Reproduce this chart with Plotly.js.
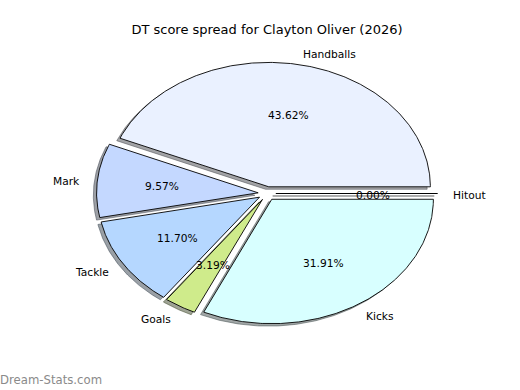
<!DOCTYPE html>
<html>
<head>
<meta charset="utf-8">
<script src="https://cdn.plot.ly/plotly-3.0.1.min.js"></script>
<style>html,body{margin:0;padding:0;background:#fff;}#chart{width:520px;height:390px;}</style>
</head>
<body>
<div id="chart"></div>
<script>
// ---- data ----
const categories = ["Handballs", "Mark", "Tackle", "Goals", "Kicks", "Hitout"];
const points = [82, 18, 22, 6, 60, 0];   // DT points per stat
const colours = ["#EAF1FF", "#C4D8FF", "#B5D7FF", "#CFEB8B", "#D8FFFF", "#EEEEEE"];
const chartTitle = "DT score spread for Clayton Oliver (2026)";
const watermark = "Dream-Stats.com";

// ---- styling ----
const explode = 0.055;
const labelDist = 1.1;
const pctDist = 0.6;
const shadowOff = 0.02;
const FONT = "DejaVu Sans, sans-serif";

const total = points.reduce((a, b) => a + b, 0);

function hexToRgb(h) {
  const n = parseInt(h.slice(1), 16);
  return [(n >> 16) & 255, (n >> 8) & 255, n & 255];
}

const shadowTraces = [];
const wedgeTraces = [];
const annotations = [];
let cum = 0;
categories.forEach((cat, i) => {
  const frac = points[i] / total;
  const t1 = 2 * Math.PI * cum;
  const t2 = 2 * Math.PI * (cum + frac);
  cum += frac;
  const tm = (t1 + t2) / 2;
  const ax = explode * Math.cos(tm);
  const ay = explode * Math.sin(tm);
  const xs = [ax], ys = [ay];
  const n = Math.max(2, Math.ceil((t2 - t1) / (Math.PI / 360)));
  for (let k = 0; k <= n; k++) {
    const t = t1 + (t2 - t1) * k / n;
    xs.push(ax + Math.cos(t));
    ys.push(ay + Math.sin(t));
  }
  xs.push(ax); ys.push(ay);

  const rgb = hexToRgb(colours[i]).map(v => Math.round(v * 0.3));
  const sc = `rgba(${rgb[0]},${rgb[1]},${rgb[2]},0.5)`;
  shadowTraces.push({
    type: "scatter", mode: "lines", fill: "toself",
    x: xs.map(v => v - shadowOff), y: ys.map(v => v - shadowOff),
    fillcolor: sc, line: {color: sc, width: 1},
    hoverinfo: "skip", showlegend: false
  });
  wedgeTraces.push({
    type: "scatter", mode: "lines", fill: "toself",
    x: xs, y: ys, name: cat,
    fillcolor: colours[i], line: {color: "#000000", width: 0.9},
    hoverinfo: "name", showlegend: false
  });

  const lx = ax + labelDist * Math.cos(tm);
  const ly = ay + labelDist * Math.sin(tm);
  annotations.push({
    x: lx, y: ly, xref: "x", yref: "y", text: cat, showarrow: false,
    xanchor: lx > 0 ? "left" : "right", yanchor: "middle", borderpad: 0,
    xshift: lx > 0 ? -2 : 0, yshift: -2,
    font: {family: FONT, size: 10.67, color: "#000"}
  });
  annotations.push({
    x: ax + pctDist * Math.cos(tm), y: ay + pctDist * Math.sin(tm),
    xref: "x", yref: "y", text: (frac * 100).toFixed(2) + "%", showarrow: false,
    xanchor: "center", yanchor: "middle", borderpad: 0, yshift: -1.5,
    font: {family: FONT, size: 10.67, color: "#000"}
  });
});

annotations.push({
  x: -65 / 404, y: -31 / 311, xref: "paper", yref: "paper",
  text: watermark, showarrow: false, xanchor: "left", yanchor: "middle", borderpad: 0,
  xshift: -1,
  font: {family: FONT, size: 11.7, color: "#8a8a8a"}
});

const layout = {
  width: 520, height: 390,
  margin: {l: 65, r: 51, t: 38, b: 41, pad: 0},
  paper_bgcolor: "#ffffff", plot_bgcolor: "rgba(0,0,0,0)",
  title: {text: chartTitle, x: 0.5, xref: "paper", xanchor: "center",
          y: 1 - 29.5 / 390, yref: "container", yanchor: "middle",
          font: {family: FONT, size: 13, color: "#000"}},
  xaxis: {range: [-1.25, 1.25], visible: false, fixedrange: true},
  yaxis: {range: [-1.25, 1.25], visible: false, fixedrange: true},
  annotations: annotations,
  showlegend: false
};

Plotly.newPlot("chart", shadowTraces.concat(wedgeTraces), layout, {displayModeBar: false, staticPlot: true});
</script>
</body>
</html>
